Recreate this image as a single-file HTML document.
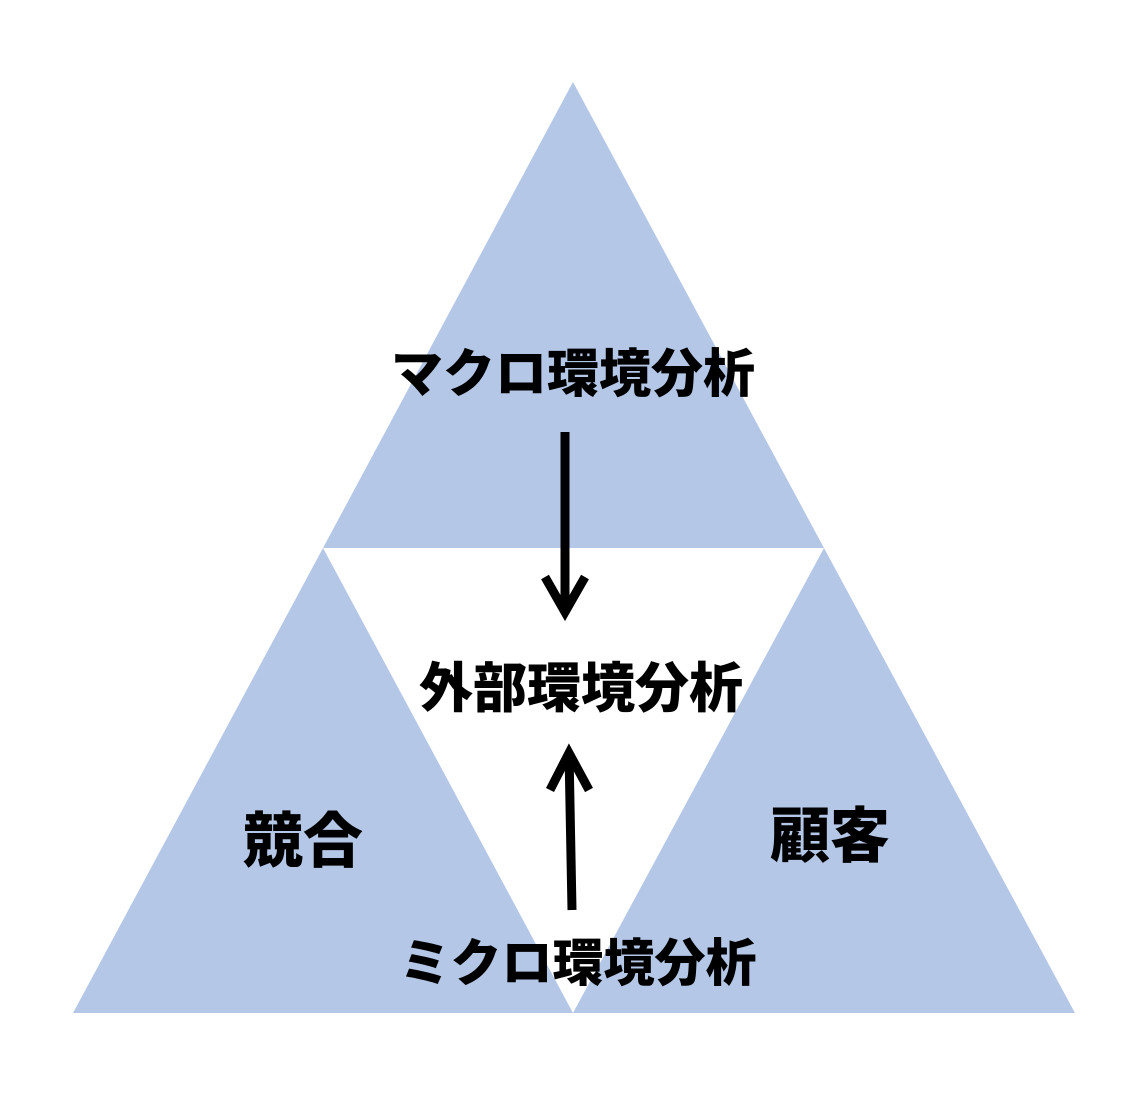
<!DOCTYPE html>
<html><head><meta charset="utf-8"><style>
html,body{margin:0;padding:0;background:#fff;width:1148px;height:1108px;overflow:hidden}
text{font-family:"Liberation Sans","Noto Sans CJK JP",sans-serif;font-weight:900;fill:#000}
</style></head><body>
<svg width="1148" height="1108" xmlns="http://www.w3.org/2000/svg">
<polygon points="573,82 824,548 323,548" fill="#b4c7e7"/>
<polygon points="323,548 573,1013 73,1013" fill="#b4c7e7"/>
<polygon points="824,548 1075,1013 573,1013" fill="#b4c7e7"/>
<g stroke="#000" stroke-width="9" fill="none" stroke-linecap="butt">
<line x1="565" y1="432" x2="565" y2="610"/>
<polyline points="545,577 565,612 585,577" stroke-linejoin="miter"/>
<line x1="572" y1="910" x2="569" y2="752"/>
<polyline points="550,790 569,753 589,790"/>
</g>
<text x="573" y="392" font-size="52" text-anchor="middle">マクロ環境分析</text>
<text x="581" y="707" font-size="54" text-anchor="middle">外部環境分析</text>
<text x="303" y="862" font-size="60" text-anchor="middle">競合</text>
<text x="830" y="857" font-size="60" text-anchor="middle">顧客</text>
<text x="578" y="981" font-size="51" text-anchor="middle">ミクロ環境分析</text>
</svg>
</body></html>
